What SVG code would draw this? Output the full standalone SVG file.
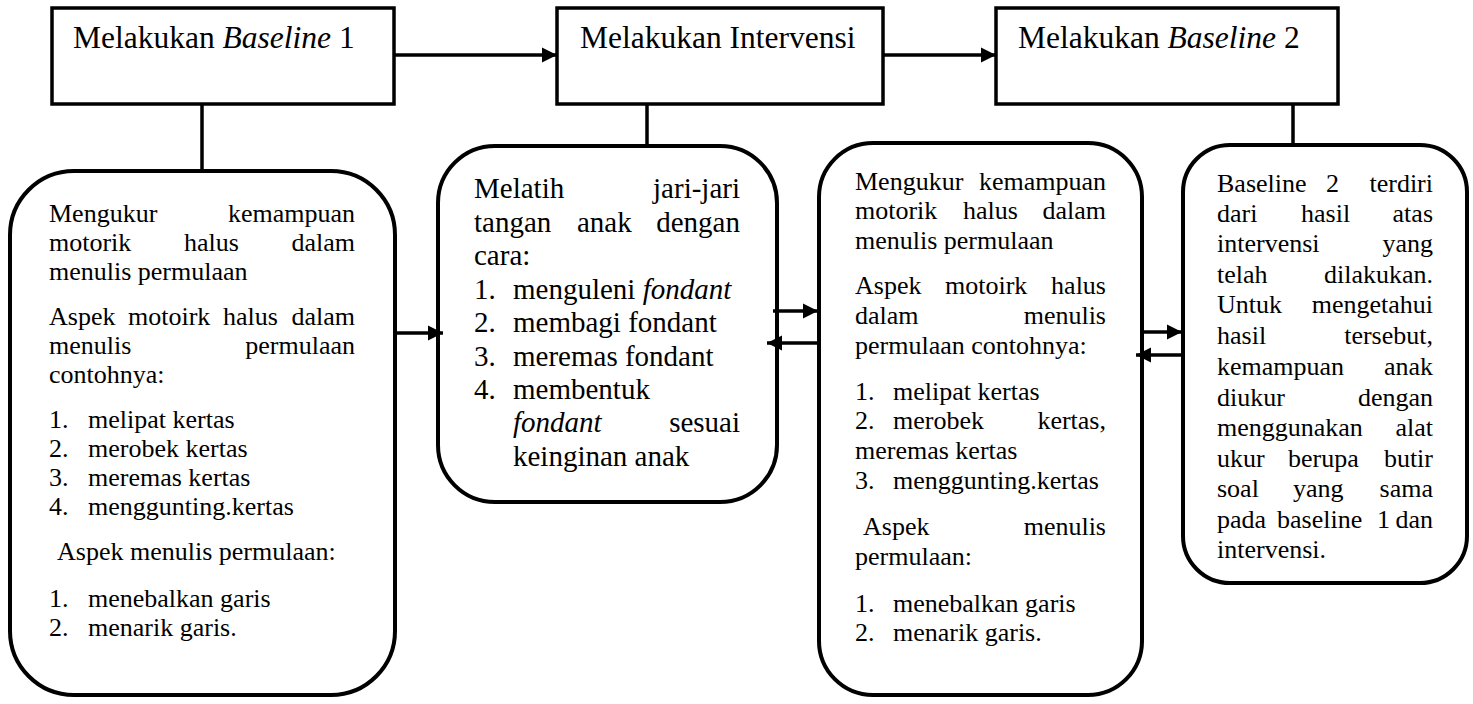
<svg xmlns="http://www.w3.org/2000/svg" width="1473" height="704" viewBox="0 0 1473 704">
<style>
text{font-family:"Liberation Serif","Times New Roman",serif;fill:#000}
.h{font-size:31.5px}
.b{font-size:26px}
.m{font-size:29px}
.e{text-anchor:end}
.i{font-style:italic}
.rect{fill:#fff;stroke:#000;stroke-width:3.5}
.rr{fill:#fff;stroke:#000;stroke-width:4}
.c{stroke:#000;stroke-width:3.5;fill:none}
</style>
<defs>
<marker id="ah" markerUnits="userSpaceOnUse" markerWidth="18" markerHeight="18" refX="15" refY="7.5" orient="auto" overflow="visible">
<path d="M0,0 L15,7.5 L0,15 z" fill="#000"/>
</marker>
</defs>
<g id="n-baseline1">
<rect class="rect" x="52" y="8" width="342" height="96"/>
<text class="h" x="73" y="48">Melakukan <tspan class="i">Baseline</tspan> 1</text>
</g>
<g id="n-intervensi">
<rect class="rect" x="557" y="8" width="326" height="96"/>
<text class="h" x="580" y="48">Melakukan Intervensi</text>
</g>
<g id="n-baseline2">
<rect class="rect" x="996" y="8" width="342" height="96"/>
<text class="h" x="1018" y="48">Melakukan <tspan class="i">Baseline</tspan> 2</text>
</g>
<g id="n-detail1">
<rect class="rr" x="10" y="171" width="385" height="524" rx="64" ry="64"/>
<text class="b" x="49" y="222">Mengukur</text><text class="b e" x="355" y="222">kemampuan</text>
<text class="b" x="49" y="251">motorik</text><text class="b" x="184" y="251">halus</text><text class="b e" x="355" y="251">dalam</text>
<text class="b" x="49" y="280">menulis permulaan</text>
<text class="b" x="49" y="325">Aspek</text><text class="b" x="128" y="325">motoirk</text><text class="b" x="223" y="325">halus</text><text class="b e" x="355" y="325">dalam</text>
<text class="b" x="49" y="354">menulis</text><text class="b e" x="355" y="354">permulaan</text>
<text class="b" x="49" y="383">contohnya:</text>
<text class="b" x="49" y="428">1.</text><text class="b" x="88" y="428">melipat kertas</text>
<text class="b" x="49" y="457">2.</text><text class="b" x="88" y="457">merobek kertas</text>
<text class="b" x="49" y="486">3.</text><text class="b" x="88" y="486">meremas kertas</text>
<text class="b" x="49" y="515">4.</text><text class="b" x="88" y="515">menggunting.kertas</text>
<text class="b" x="57" y="560">Aspek menulis permulaan:</text>
<text class="b" x="49" y="607">1.</text><text class="b" x="88" y="607">menebalkan garis</text>
<text class="b" x="49" y="636">2.</text><text class="b" x="88" y="636">menarik garis.</text>
</g>
<g id="n-detail2">
<rect class="rr" x="438" y="146" width="339" height="356" rx="57" ry="57"/>
<text class="m" x="474" y="198">Melatih</text><text class="m e" x="740" y="198">jari-jari</text>
<text class="m" x="474" y="232">tangan</text><text class="m" x="577" y="232">anak</text><text class="m e" x="740" y="232">dengan</text>
<text class="m" x="474" y="265">cara:</text>
<text class="m" x="474" y="299">1.</text><text class="m" x="513" y="299">menguleni <tspan class="i">fondant</tspan></text>
<text class="m" x="474" y="332">2.</text><text class="m" x="513" y="332">membagi fondant</text>
<text class="m" x="474" y="366">3.</text><text class="m" x="513" y="366">meremas fondant</text>
<text class="m" x="474" y="399">4.</text><text class="m" x="513" y="399">membentuk</text>
<text class="m i" x="513" y="432">fondant</text><text class="m e" x="740" y="432">sesuai</text>
<text class="m" x="513" y="466">keinginan anak</text>
</g>
<g id="n-detail3">
<rect class="rr" x="819" y="143" width="323" height="552" rx="54" ry="54"/>
<text class="b" x="855" y="190">Mengukur</text><text class="b e" x="1106" y="190">kemampuan</text>
<text class="b" x="855" y="219">motorik</text><text class="b" x="963" y="219">halus</text><text class="b e" x="1106" y="219">dalam</text>
<text class="b" x="855" y="249">menulis permulaan</text>
<text class="b" x="855" y="294">Aspek</text><text class="b" x="945" y="294">motoirk</text><text class="b e" x="1106" y="294">halus</text>
<text class="b" x="855" y="324">dalam</text><text class="b e" x="1106" y="324">menulis</text>
<text class="b" x="855" y="354">permulaan contohnya:</text>
<text class="b" x="855" y="400">1.</text><text class="b" x="893" y="400">melipat kertas</text>
<text class="b" x="855" y="429">2.</text><text class="b" x="893" y="429">merobek</text><text class="b e" x="1106" y="429">kertas,</text>
<text class="b" x="855" y="459">meremas kertas</text>
<text class="b" x="855" y="489">3.</text><text class="b" x="893" y="489">menggunting.kertas</text>
<text class="b" x="863" y="535">Aspek</text><text class="b e" x="1106" y="535">menulis</text>
<text class="b" x="855" y="565">permulaan:</text>
<text class="b" x="855" y="612">1.</text><text class="b" x="893" y="612">menebalkan garis</text>
<text class="b" x="855" y="641">2.</text><text class="b" x="893" y="641">menarik garis.</text>
</g>
<g id="n-detail4">
<rect class="rr" x="1183" y="145" width="284" height="438" rx="47" ry="47"/>
<text class="b" x="1217" y="192">Baseline</text><text class="b" x="1326" y="192">2</text><text class="b e" x="1433" y="192">terdiri</text>
<text class="b" x="1217" y="222">dari</text><text class="b" x="1301" y="222">hasil</text><text class="b e" x="1433" y="222">atas</text>
<text class="b" x="1217" y="252">intervensi</text><text class="b e" x="1433" y="252">yang</text>
<text class="b" x="1217" y="283">telah</text><text class="b e" x="1433" y="283">dilakukan.</text>
<text class="b" x="1217" y="313">Untuk</text><text class="b e" x="1433" y="313">mengetahui</text>
<text class="b" x="1217" y="344">hasil</text><text class="b e" x="1433" y="344">tersebut,</text>
<text class="b" x="1217" y="375">kemampuan</text><text class="b e" x="1433" y="375">anak</text>
<text class="b" x="1217" y="406">diukur</text><text class="b e" x="1433" y="406">dengan</text>
<text class="b" x="1217" y="436">menggunakan</text><text class="b e" x="1433" y="436">alat</text>
<text class="b" x="1217" y="467">ukur</text><text class="b" x="1288" y="467">berupa</text><text class="b e" x="1433" y="467">butir</text>
<text class="b" x="1217" y="497">soal</text><text class="b" x="1293" y="497">yang</text><text class="b e" x="1433" y="497">sama</text>
<text class="b" x="1217" y="528">pada</text><text class="b" x="1277" y="528">baseline</text><text class="b" x="1377" y="528">1</text><text class="b e" x="1433" y="528">dan</text>
<text class="b" x="1217" y="558">intervensi.</text>
</g>
<g id="connectors">
<line class="c" x1="394" y1="55" x2="557" y2="55" marker-end="url(#ah)"/>
<line class="c" x1="883" y1="55" x2="996" y2="55" marker-end="url(#ah)"/>
<line class="c" x1="202" y1="104" x2="202" y2="171"/>
<line class="c" x1="647" y1="104" x2="647" y2="146"/>
<line class="c" x1="1293" y1="104" x2="1293" y2="145"/>
<line class="c" x1="395" y1="333" x2="443" y2="333" marker-end="url(#ah)"/>
<line class="c" x1="773" y1="311" x2="818" y2="311" marker-end="url(#ah)"/>
<line class="c" x1="817" y1="343" x2="767" y2="343" marker-end="url(#ah)"/>
<line class="c" x1="1142" y1="332" x2="1182" y2="332" marker-end="url(#ah)"/>
<line class="c" x1="1183" y1="355" x2="1136" y2="355" marker-end="url(#ah)"/>
</g>
</svg>
